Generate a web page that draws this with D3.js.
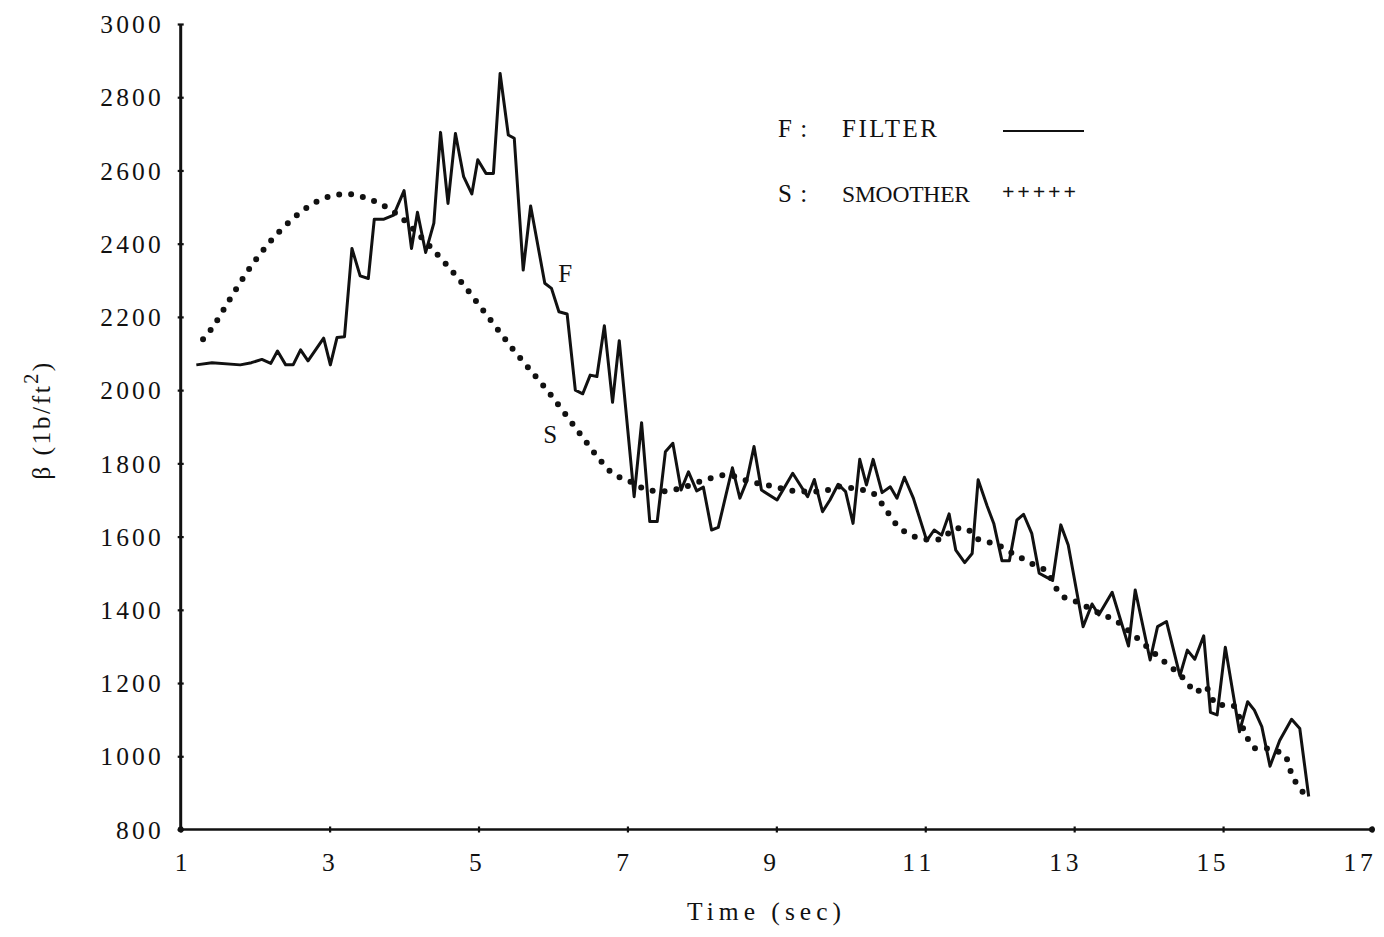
<!DOCTYPE html>
<html>
<head>
<meta charset="utf-8">
<script src="https://cdn.jsdelivr.net/npm/d3@7/dist/d3.min.js"></script>
<style>
  html, body { margin: 0; padding: 0; background: #fff; }
  svg { display: block; }
  text { font-family: "Liberation Serif", "DejaVu Serif", serif; fill: #111; }
</style>
</head>
<body>
<svg id="chart" width="1384" height="937"></svg>
<script>
// Filter estimate of the ballistic coefficient (time in sec, beta in lb/ft^2)
const filterTime = [
  1.21, 1.42, 1.80, 1.95, 2.09, 2.21, 2.30, 2.41, 2.51, 2.61, 2.71, 2.92, 3.01, 3.10, 3.20,
  3.30, 3.41, 3.52, 3.60, 3.73, 3.86, 4.00, 4.10, 4.18, 4.29, 4.40, 4.49, 4.59, 4.69, 4.80,
  4.91, 4.99, 5.10, 5.20, 5.29, 5.40, 5.48, 5.60, 5.70, 5.89, 5.98, 6.08, 6.19, 6.30, 6.40,
  6.50, 6.59, 6.69, 6.80, 6.89, 7.09, 7.19, 7.30, 7.40, 7.51, 7.61, 7.72, 7.82, 7.93, 8.02,
  8.13, 8.22, 8.32, 8.41, 8.51, 8.60, 8.70, 8.80, 9.01, 9.22, 9.32, 9.42, 9.51, 9.62, 9.72,
  9.83, 9.93, 10.03, 10.12, 10.21, 10.30, 10.42, 10.53, 10.62, 10.72, 10.84, 11.02, 11.12, 11.22, 11.32,
  11.41, 11.53, 11.63, 11.71, 11.83, 11.92, 12.03, 12.13, 12.23, 12.32, 12.43, 12.53, 12.62, 12.71, 12.82,
  12.92, 13.12, 13.24, 13.33, 13.51, 13.73, 13.82, 14.02, 14.12, 14.24, 14.42, 14.52, 14.62, 14.74, 14.83,
  14.92, 15.03, 15.22, 15.33, 15.42, 15.52, 15.63, 15.76, 15.92, 16.03, 16.15
];
const filterBeta = [
  2069, 2075, 2069, 2075, 2084, 2073, 2107, 2069, 2069, 2110, 2080, 2142, 2069, 2144, 2146,
  2387, 2312, 2305, 2467, 2467, 2478, 2545, 2387, 2486, 2376, 2456, 2704, 2510, 2701, 2583,
  2536, 2629, 2592, 2592, 2865, 2697, 2688, 2328, 2503, 2292, 2278, 2214, 2208, 2000, 1990,
  2041, 2037, 2176, 1967, 2135, 1709, 1911, 1641, 1641, 1832, 1855, 1727, 1777, 1725, 1735,
  1618, 1625, 1711, 1788, 1705, 1750, 1846, 1727, 1700, 1773, 1741, 1709, 1756, 1668, 1700,
  1743, 1723, 1636, 1811, 1741, 1811, 1720, 1736, 1705, 1762, 1705, 1589, 1618, 1604, 1662,
  1563, 1529, 1554, 1755, 1684, 1636, 1534, 1534, 1645, 1661, 1609, 1500, 1490, 1480, 1632,
  1577, 1354, 1416, 1386, 1448, 1301, 1454, 1263, 1354, 1368, 1220, 1290, 1265, 1329, 1120,
  1113, 1298, 1067, 1149, 1126, 1081, 973, 1043, 1101, 1076, 890
];

// Smoother estimate of the same quantity
const smootherTime = [
  1.30, 1.42, 1.62, 1.91, 2.20, 2.51, 2.83, 3.23, 3.50, 3.86, 4.39, 4.80, 5.11, 5.47, 5.92,
  6.41, 6.60, 6.81, 6.99, 7.21, 7.44, 7.71, 8.04, 8.33, 8.65, 8.96, 9.32, 9.63, 9.81, 10.03,
  10.30, 10.42, 10.62, 10.84, 11.02, 11.20, 11.40, 11.53, 11.71, 11.94, 12.21, 12.44, 12.63, 12.82, 13.03,
  13.21, 13.39, 13.53, 13.82, 14.12, 14.52, 14.63, 14.75, 14.92, 15.12, 15.32, 15.42, 15.53, 15.83, 15.92,
  16.03, 16.15
];
const smootherBeta = [
  2139, 2169, 2235, 2328, 2405, 2469, 2515, 2536, 2524, 2487, 2383, 2287, 2205, 2110, 2000,
  1868, 1817, 1771, 1755, 1732, 1723, 1732, 1755, 1768, 1750, 1737, 1723, 1723, 1737, 1732,
  1718, 1689, 1631, 1601, 1592, 1592, 1622, 1623, 1593, 1580, 1550, 1525, 1504, 1441, 1422,
  1404, 1386, 1374, 1327, 1274, 1201, 1174, 1192, 1140, 1140, 1052, 1022, 1022, 1003, 952,
  912, 891
];

const xTickValues = [1, 3, 5, 7, 9, 11, 13, 15, 17];
const yTickValues = [800, 1000, 1200, 1400, 1600, 1800, 2000, 2200, 2400, 2600, 2800, 3000];

const legendKeys = ["F:", "S:"];
const legendNames = ["FILTER", "SMOOTHER"];

const svg = d3.select("#chart");
const CHAR = 15.6; // typewriter character pitch

const x = d3.scaleLinear().domain([1, 17]).range([180.7, 1372]);
const y = d3.scaleLinear().domain([800, 3000]).range([829.5, 24]);

// Y axis
const yAxis = svg.append("g")
  .attr("transform", `translate(${x(1)},0)`)
  .call(d3.axisLeft(y).tickValues(yTickValues).tickSize(3).tickPadding(17).tickFormat(d3.format("d")));
yAxis.select(".domain").remove();
yAxis.selectAll(".tick line").attr("x1", -3).attr("x2", 3).attr("stroke", "#111").attr("stroke-width", 2.2);
yAxis.selectAll(".tick text")
  .attr("font-size", 25.5)
  .attr("dy", "0.34em")
  .attr("fill", "#111")
  .attr("textLength", d => String(d).length * CHAR - 2)
  .attr("lengthAdjust", "spacing");

// X axis
const xAxis = svg.append("g")
  .attr("transform", `translate(0,${y(800)})`)
  .call(d3.axisBottom(x).tickValues(xTickValues).tickSize(3).tickPadding(38).tickFormat(d3.format("d")));
xAxis.select(".domain").remove();
xAxis.selectAll(".tick line").attr("y1", -3).attr("y2", 3).attr("stroke", "#111").attr("stroke-width", 2.2);
xAxis.selectAll(".tick text")
  .attr("font-size", 25.5)
  .attr("dy", 0)
  .attr("dx", d => -(d - 1) * 0.9)
  .attr("fill", "#111")
  .attr("textLength", d => String(d).length * CHAR - 2)
  .attr("lengthAdjust", "spacing");

// Axis lines
svg.append("line")
  .attr("x1", x(1)).attr("x2", x(1)).attr("y1", y(3000)).attr("y2", y(800))
  .attr("stroke", "#111").attr("stroke-width", 3);
svg.append("line")
  .attr("x1", x(1)).attr("x2", x(17)).attr("y1", y(800)).attr("y2", y(800))
  .attr("stroke", "#111").attr("stroke-width", 2.6);
svg.append("circle").attr("cx", x(17)).attr("cy", y(800)).attr("r", 3).attr("fill", "#111");
svg.append("circle").attr("cx", x(1)).attr("cy", y(800)).attr("r", 3).attr("fill", "#111");

// Axis titles
svg.append("text")
  .attr("x", 764).attr("y", 920)
  .attr("text-anchor", "middle")
  .attr("font-size", 25.5)
  .attr("textLength", 10 * CHAR - 2)
  .attr("lengthAdjust", "spacing")
  .text("Time (sec)");

const yTitle = svg.append("text")
  .attr("transform", "translate(50,420) rotate(-90)")
  .attr("text-anchor", "middle")
  .attr("font-size", 25.5)
  .attr("letter-spacing", 2.5);
yTitle.append("tspan").text("β (1b/ft");
yTitle.append("tspan").attr("dy", -12).attr("font-size", 20).text("2");
yTitle.append("tspan").attr("dy", 12).text(")");

// Series
const filterData = filterTime.map((t, i) => [t, filterBeta[i]]);
const smootherData = smootherTime.map((t, i) => [t, smootherBeta[i]]);

const line = d3.line().x(d => x(d[0])).y(d => y(d[1]));
const smoothLine = d3.line().x(d => x(d[0])).y(d => y(d[1])).curve(d3.curveMonotoneX);

svg.append("path")
  .datum(smootherData)
  .attr("d", smoothLine)
  .attr("fill", "none")
  .attr("stroke", "#111")
  .attr("stroke-width", 6)
  .attr("stroke-linecap", "round")
  .attr("stroke-dasharray", "0 12");

svg.append("path")
  .datum(filterData)
  .attr("d", line)
  .attr("fill", "none")
  .attr("stroke", "#111")
  .attr("stroke-width", 3)
  .attr("stroke-linejoin", "round");

// Curve tags
svg.append("text").attr("x", x(6.07)).attr("y", y(2295)).attr("font-size", 25).text("F");
svg.append("text").attr("x", x(5.87)).attr("y", y(1856)).attr("font-size", 25).text("S");

// Legend
const legend = svg.append("g");
legendKeys.forEach((k, i) => {
  const by = 137 + i * 64.5;
  legend.append("text").attr("x", 778).attr("y", by).attr("font-size", 25)
    .attr("textLength", 2 * CHAR - 2).attr("lengthAdjust", "spacing").text(k);
  legend.append("text").attr("x", 842).attr("y", by).attr("font-size", i === 0 ? 25 : 23.5)
    .attr("textLength", i === 0 ? 95 : 128).attr("lengthAdjust", "spacing").text(legendNames[i]);
});
legend.append("line")
  .attr("x1", 1003).attr("x2", 1084).attr("y1", 131).attr("y2", 131)
  .attr("stroke", "#111").attr("stroke-width", 2.2);
legend.append("text").attr("x", 1002).attr("y", 199).attr("font-size", 22)
  .attr("font-weight", "bold")
  .attr("textLength", 74).attr("lengthAdjust", "spacing").text("+++++");
</script>
</body>
</html>
